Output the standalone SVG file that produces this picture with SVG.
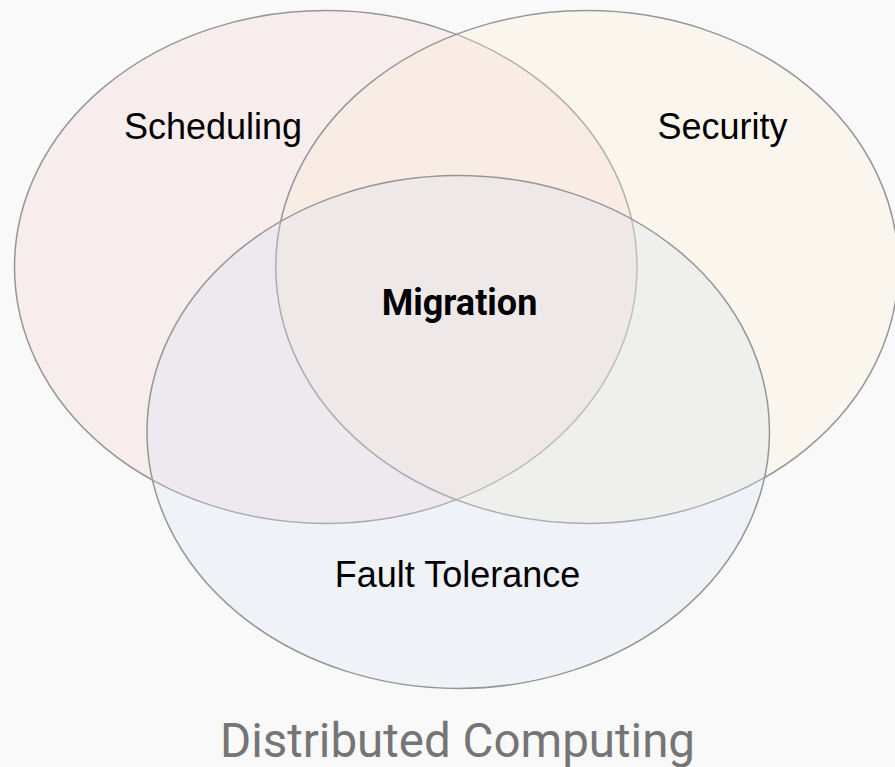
<svg xmlns="http://www.w3.org/2000/svg" width="895" height="767" viewBox="0 0 895 767">
  <style>
    .set { stroke: #969696; stroke-width: 1.5; fill-opacity: 0.3; }
    .label { font-family: "Liberation Sans", Arial, sans-serif; font-size: 36px; fill: #000; text-anchor: middle; }
    .core { font-family: Roboto, "Liberation Sans", sans-serif; font-size: 36px; font-weight: bold; fill: #000; text-anchor: middle; }
    .title { font-family: Roboto, "Liberation Sans", sans-serif; font-size: 47.5px; fill: #757575; text-anchor: middle; }
  </style>
  <rect width="895" height="767" fill="#f9f9f9"/>

  <g id="scheduling">
    <ellipse class="set" cx="325.75" cy="267" rx="311.25" ry="256.4" fill="#f2d1d1"/>
    <text class="label" x="213" y="139">Scheduling</text>
  </g>

  <g id="security">
    <ellipse class="set" cx="587" cy="267" rx="311.25" ry="256.4" fill="#fcecd0"/>
    <text class="label" x="722.5" y="139">Security</text>
  </g>

  <g id="fault-tolerance">
    <ellipse class="set" cx="458.25" cy="432" rx="311.25" ry="256.4" fill="#d8e2f2"/>
    <text class="label" x="457.5" y="587">Fault Tolerance</text>
  </g>

  <g id="migration">
    <text class="core" x="459.5" y="315">Migration</text>
  </g>

  <g id="connectors"/>

  <g id="caption">
    <text class="title" x="457.5" y="756.5">Distributed Computing</text>
  </g>
</svg>
